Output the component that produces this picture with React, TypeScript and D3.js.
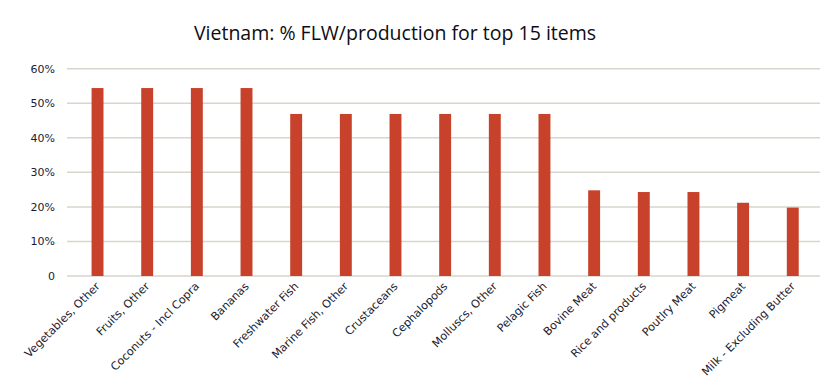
import { useRef, useEffect } from 'react';
import * as d3 from 'd3';

const ITEMS = [
  'Vegetables, Other', 'Fruits, Other', 'Coconuts - Incl Copra', 'Bananas',
  'Freshwater Fish', 'Marine Fish, Other', 'Crustaceans', 'Cephalopods',
  'Molluscs, Other', 'Pelagic Fish', 'Bovine Meat', 'Rice and products',
  'Poutlry Meat', 'Pigmeat', 'Milk - Excluding Butter',
];
const FLW_PCT = [54.4, 54.4, 54.4, 54.4, 46.9, 46.9, 46.9, 46.9, 46.9, 46.9, 24.8, 24.3, 24.3, 21.2, 19.8];
const Y_TICKS = [0, 10, 20, 30, 40, 50, 60];

const WIDTH = 840;
const HEIGHT = 388;
const BAR_COLOR = '#c8412a';
const GRID_COLOR = '#d8d5cc';
const TEXT_COLOR = '#1c1c30';

export default function App() {
  const svgRef = useRef<SVGSVGElement>(null);

  useEffect(() => {
    if (!svgRef.current) return;
    const svg = d3.select(svgRef.current);
    svg.selectAll('*').remove();

    const x = d3.scaleBand<string>().domain(ITEMS).range([72.7, 817.6]).paddingInner(0.76).paddingOuter(0.38);
    const y = d3.scaleLinear().domain([0, 60]).range([276, 68.7]);

    // gridlines
    svg.append('g')
      .selectAll('line')
      .data(Y_TICKS)
      .join('line')
      .attr('x1', 67)
      .attr('x2', 820)
      .attr('y1', d => y(d))
      .attr('y2', d => y(d))
      .attr('stroke', GRID_COLOR)
      .attr('stroke-width', 1.5);

    // y labels
    svg.append('g')
      .selectAll('text')
      .data(Y_TICKS)
      .join('text')
      .attr('x', 55)
      .attr('y', d => y(d))
      .attr('dy', '0.35em')
      .attr('text-anchor', 'end')
      .attr('fill', TEXT_COLOR)
      .attr('font-family', 'DejaVu Sans, Verdana, sans-serif')
      .attr('font-size', '11px')
      .text(d => (d === 0 ? '0' : `${d}%`));

    // bars
    svg.append('g')
      .selectAll('rect')
      .data(ITEMS)
      .join('rect')
      .attr('x', d => x(d) ?? 0)
      .attr('width', x.bandwidth())
      .attr('y', (_, i) => y(FLW_PCT[i]))
      .attr('height', (_, i) => y(0) - y(FLW_PCT[i]))
      .attr('fill', BAR_COLOR);

    // x labels
    svg.append('g')
      .selectAll('text')
      .data(ITEMS)
      .join('text')
      .attr('transform', d => `translate(${(x(d) ?? 0) + x.bandwidth() / 2 + 3},${287}) rotate(-45)`)
      .attr('text-anchor', 'end')
      .attr('fill', TEXT_COLOR)
      .attr('font-family', 'DejaVu Sans, Verdana, sans-serif')
      .attr('font-size', '11.2px')
      .text(d => d);

    // title
    svg.append('text')
      .attr('x', 395)
      .attr('y', 40)
      .attr('text-anchor', 'middle')
      .attr('fill', '#0d0d14')
      .attr('font-family', 'Open Sans, sans-serif')
      .attr('font-weight', 500)
      .attr('font-size', '19.5px')
      .text('Vietnam: % FLW/production for top 15 items');
  }, []);

  return (
    <svg
      ref={svgRef}
      width={WIDTH}
      height={HEIGHT}
      style={{ position: 'absolute', left: 0, top: 0, background: '#fff' }}
    />
  );
}
